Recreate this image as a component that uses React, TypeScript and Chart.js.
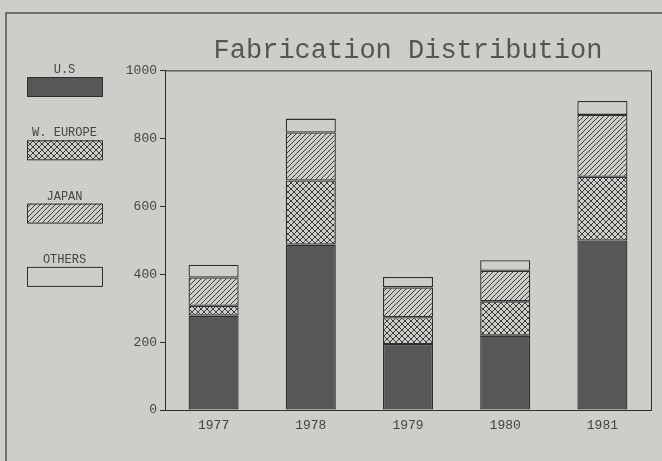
import React, { useEffect, useRef } from "react";
import { Chart, registerables } from "chart.js";

Chart.register(...registerables);

const categories = ["1977", "1978", "1979", "1980", "1981"];
const usValues = [278, 487, 194, 219, 499];
const europeValues = [29, 189, 79, 101, 188];
const japanValues = [83, 141, 88, 90, 182];
const othersValues = [38, 41, 31, 31, 41];
const seriesLabels = ["U.S", "W. EUROPE", "JAPAN", "OTHERS"];
const titleText = "Fabrication Distribution";
const yMin = 0;
const yMax = 1000;
const yStep = 200;

const BG = "#cdcdc9";
const INK = "#2e2e2e";
const DARK = "#575757";
const MONO = "'Liberation Mono', 'DejaVu Sans Mono', monospace";

function makePattern(kind: "cross" | "hatch"): CanvasPattern | string {
  const size = kind === "cross" ? 6 : 5;
  const c = document.createElement("canvas");
  c.width = size;
  c.height = size;
  const ctx = c.getContext("2d");
  if (!ctx) return BG;
  ctx.fillStyle = BG;
  ctx.fillRect(0, 0, size, size);
  ctx.strokeStyle = "#3a3a3a";
  ctx.lineWidth = 1;
  ctx.beginPath();
  ctx.moveTo(-1, size + 1);
  ctx.lineTo(size + 1, -1);
  ctx.moveTo(-1, 1);
  ctx.lineTo(1, -1);
  ctx.moveTo(size - 1, size + 1);
  ctx.lineTo(size + 1, size - 1);
  if (kind === "cross") {
    ctx.moveTo(-1, -1);
    ctx.lineTo(size + 1, size + 1);
    ctx.moveTo(size - 1, -1);
    ctx.lineTo(size + 1, 1);
    ctx.moveTo(-1, size - 1);
    ctx.lineTo(1, size + 1);
  }
  ctx.stroke();
  const p = ctx.createPattern(c, "repeat");
  return p || BG;
}

export default function App() {
  const ref = useRef<HTMLCanvasElement>(null);

  useEffect(() => {
    document.body.style.margin = "0";
    const canvas = ref.current;
    if (!canvas) return;
    const cross = makePattern("cross");
    const hatch = makePattern("hatch");
    const fills = [DARK, cross, hatch, BG];

    const framePlugin = {
      id: "frame",
      beforeDraw(chart: any) {
        const ctx = chart.ctx;
        ctx.save();
        ctx.fillStyle = BG;
        ctx.fillRect(0, 0, chart.width, chart.height);
        ctx.strokeStyle = "#505050";
        ctx.lineWidth = 1.5;
        ctx.beginPath();
        ctx.moveTo(6, chart.height);
        ctx.lineTo(6, 13);
        ctx.lineTo(chart.width, 13);
        ctx.stroke();
        ctx.restore();
      },
      afterDraw(chart: any) {
        const ctx = chart.ctx;
        const a = chart.chartArea;
        ctx.save();
        ctx.strokeStyle = INK;
        ctx.lineWidth = 1;
        ctx.strokeRect(a.left + 0.5, a.top + 0.5, a.right - a.left, a.bottom - a.top);
        const boxLeft = 27;
        const boxW = 75;
        const boxH = 19;
        ctx.font = "12px " + MONO;
        ctx.textAlign = "center";
        ctx.textBaseline = "middle";
        chart.data.datasets.forEach((ds: any, i: number) => {
          const top = 77 + i * 63.3;
          ctx.fillStyle = "#444";
          ctx.fillText(ds.label, boxLeft + boxW / 2, top - 7);
          ctx.fillStyle = ds.backgroundColor;
          ctx.fillRect(boxLeft, top, boxW, boxH);
          ctx.strokeStyle = INK;
          ctx.strokeRect(boxLeft + 0.5, top + 0.5, boxW, boxH);
        });
        ctx.restore();
      },
    };

    const values = [usValues, europeValues, japanValues, othersValues];
    const chart = new Chart(canvas, {
      type: "bar",
      data: {
        labels: categories,
        datasets: values.map((v, i) => ({
          label: seriesLabels[i],
          data: v,
          backgroundColor: fills[i] as any,
          borderColor: INK,
          borderWidth: 1.3,
          borderSkipped: false,
          categoryPercentage: 1,
          barPercentage: 0.515,
        })),
      },
      options: {
        responsive: false,
        animation: false,
        layout: { padding: { left: 0, right: 11, top: 0, bottom: 0 } },
        plugins: {
          legend: { display: false },
          tooltip: { enabled: false },
          title: {
            display: true,
            text: titleText,
            fullSize: false,
            color: "#555",
            font: { family: MONO, size: 27, weight: "normal" },
            padding: { top: 35, bottom: 3 },
          },
        },
        scales: {
          x: {
            stacked: true,
            grid: { display: false, drawTicks: false },
            border: { display: true, color: INK },
            ticks: {
              color: "#444",
              padding: 8,
              font: { family: MONO, size: 13 },
            },
            afterFit(scale: any) {
              scale.height = 51;
            },
          },
          y: {
            stacked: true,
            min: yMin,
            max: yMax,
            grid: { display: true, drawOnChartArea: false, tickLength: 5, color: INK },
            border: { display: true, color: INK },
            ticks: {
              stepSize: yStep,
              color: "#444",
              padding: 3,
              font: { family: MONO, size: 13 },
              callback: (v: any) => String(v),
            },
            afterFit(scale: any) {
              scale.width = 165;
            },
          },
        },
      },
      plugins: [framePlugin],
    });
    return () => chart.destroy();
  }, []);

  return (
    <div style={{ position: "fixed", left: 0, top: 0, width: 662, height: 461 }}>
      <canvas ref={ref} width={662} height={461} />
    </div>
  );
}
